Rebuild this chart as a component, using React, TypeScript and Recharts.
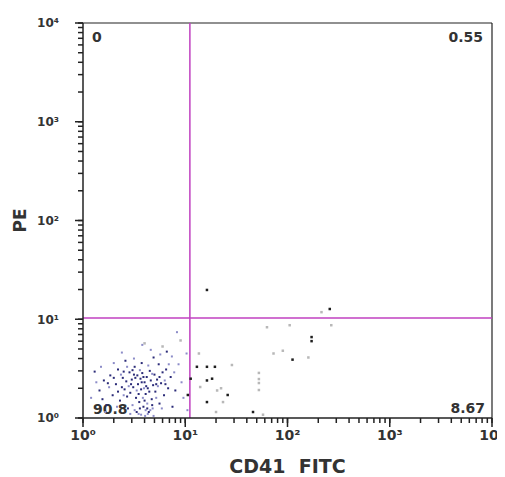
import { ScatterChart, Scatter, XAxis, YAxis, ReferenceLine, ReferenceDot } from 'recharts';

// tick positions for the log axes (decades plus minor ticks)
const decades = [1, 10, 100, 1000, 10000];
const decadeLabels = ['10⁰', '10¹', '10²', '10³', '10⁴'];
const logTicks = [
  1, 2, 3, 4, 5, 6, 7, 8, 9,
  10, 20, 30, 40, 50, 60, 70, 80, 90,
  100, 200, 300, 400, 500, 600, 700, 800, 900,
  1000, 2000, 3000, 4000, 5000, 6000, 7000, 8000, 9000,
  10000,
];

// quadrant gates and percentages
const gateX = 11.1;
const gateY = 10.3;
const quadUL = '0';
const quadUR = '0.55';
const quadLL = '90.8';
const quadLR = '8.67';

// events: [CD41 FITC, PE]
const clusterDark: [number, number][] = [
  [1.3, 2.95], [1.45, 1.9], [1.6, 2.4], [1.7, 1.35], [1.85, 2.7], [1.95, 1.7], [2.1, 2.2], [2.2, 3.1],
  [2.3, 1.5], [2.45, 2.55], [2.55, 1.95], [2.65, 2.35], [2.75, 1.25], [2.85, 2.9], [2.9, 1.8], [3.0, 2.45],
  [3.1, 2.05], [3.2, 3.3], [3.3, 1.6], [3.4, 2.7], [3.45, 2.2], [3.55, 1.45], [3.65, 2.5], [3.7, 1.95],
  [3.8, 2.85], [3.9, 1.3], [4.0, 2.3], [4.1, 1.75], [4.2, 2.6], [4.3, 2.0], [4.4, 1.15], [4.5, 3.0],
  [4.6, 2.4], [4.7, 1.55], [4.85, 2.15], [5.0, 2.75], [5.1, 1.85], [5.3, 2.45], [5.5, 3.5], [5.6, 1.4],
  [5.8, 2.25], [6.0, 2.9], [6.2, 1.7], [6.5, 3.1], [6.6, 4.7], [6.8, 2.0], [7.2, 2.6], [7.5, 1.3],
  [8.0, 1.9], [3.75, 3.6], [2.6, 3.8], [4.9, 4.1], [1.55, 1.55], [2.0, 2.55],
  [2.4, 2.05], [2.95, 2.2], [3.25, 2.55], [3.5, 1.75], [3.75, 2.3], [4.15, 2.1], [4.45, 1.85], [4.0, 1.5],
  [3.6, 1.25], [2.7, 1.65], [3.15, 2.75], [3.9, 2.6], [4.75, 1.35], [5.2, 2.2], [2.2, 1.85], [1.75, 2.25],
  [3.35, 1.15], [4.25, 1.25], [2.5, 2.95], [3.05, 3.05], [5.6, 2.6], [6.4, 2.2],
];
const clusterLight: [number, number][] = [
  [1.2, 1.6], [1.35, 2.3], [1.5, 3.3], [1.65, 1.15], [1.8, 2.05], [2.0, 3.6], [2.15, 1.3], [2.35, 2.75],
  [2.5, 1.7], [2.7, 3.3], [2.8, 2.1], [3.05, 1.35], [3.15, 4.0], [3.35, 1.9], [3.5, 1.1], [3.6, 3.05],
  [3.85, 1.6], [3.95, 2.0], [4.05, 1.05], [4.25, 1.4], [4.35, 3.4], [4.55, 1.2], [4.75, 2.8], [4.9, 1.05],
  [5.2, 1.6], [5.4, 2.1], [5.7, 4.4], [5.9, 1.25], [6.3, 2.4], [6.9, 3.5], [7.4, 4.2], [7.8, 2.9],
  [8.3, 7.4], [8.6, 3.5], [9.2, 2.3], [9.6, 1.6], [10.3, 4.5], [10.5, 1.2], [3.8, 5.5], [4.6, 4.9], [2.4, 4.6],
  [3.7, 1.08], [4.3, 1.1], [3.2, 1.2], [4.8, 1.25], [2.9, 1.1], [4.1, 1.2],
];
const blackDots: [number, number][] = [
  [16.3, 19.8], [259, 12.7], [172, 6.6], [172, 6.0], [112, 3.9], [13, 3.3], [16.3, 3.3], [19.5, 3.3],
  [11.3, 2.5], [16.3, 2.4], [18.3, 2.5], [10.6, 1.71], [26, 1.71], [16.3, 1.45], [46, 1.15],
];
const grayDots: [number, number][] = [
  [215, 11.8], [63, 8.3], [105, 8.7], [268, 8.7], [73, 4.5], [90, 4.8], [160, 4.1], [13.6, 4.5],
  [28.6, 3.44], [14, 2.06], [22.4, 2.0], [20.5, 1.9], [23.4, 1.45], [20, 1.15], [52.5, 2.86], [52.5, 2.48],
  [52.5, 2.26], [52.5, 1.92], [57.6, 1.08], [9, 6.1], [6, 5.3], [4, 5.7],
];

const toRows = (pts: [number, number][]) => pts.map(([x, y]) => ({ x, y }));

const FONT = 'DejaVu Sans';
const INK = '#222';
const GATE = '#c040c0';

const square = (fill: string, size: number) => (p: any) => (
  <rect x={p.cx - size / 2} y={p.cy - size / 2} width={size} height={size} fill={fill} />
);

const decadeLabel = (v: number) => {
  const i = decades.indexOf(v);
  return i >= 0 ? decadeLabels[i] : '';
};

// longer marks at the decades
const xMajor = (p: any) => (
  <rect x={p.cx - 0.75} y={p.cy} width={1.5} height={9} fill={INK} />
);
const yMajor = (p: any) => (
  <rect x={p.cx - 8} y={p.cy - 0.75} width={8} height={1.5} fill={INK} />
);

const XTitle = ({ viewBox }: any) => (
  <text x={viewBox.x + viewBox.width / 2} y={viewBox.y + 55} textAnchor="middle"
    fontFamily={FONT} fontWeight="bold" fontSize={19} fill="#333" style={{ whiteSpace: 'pre' }}>
    CD41  FITC
  </text>
);

const YTitle = ({ viewBox }: any) => {
  const cx = viewBox.x + 12;
  const cy = viewBox.y + viewBox.height / 2;
  return (
    <text x={cx} y={cy} transform={`rotate(-90 ${cx} ${cy})`} textAnchor="middle" dominantBaseline="central"
      fontFamily={FONT} fontWeight="bold" fontSize={17} fill="#333">
      PE
    </text>
  );
};

const TopLabels = ({ viewBox }: any) => (
  <g fontFamily={FONT} fontWeight="bold" fontSize={14} fill="#333">
    <text x={viewBox.x + 9} y={viewBox.y + 19}>{quadUL}</text>
    <text x={viewBox.x + viewBox.width - 9} y={viewBox.y + 19} textAnchor="end">{quadUR}</text>
  </g>
);

const BottomLabels = ({ viewBox }: any) => (
  <g fontFamily={FONT} fontWeight="bold" fontSize={14} fill="#333">
    <text x={viewBox.x + 10} y={viewBox.y - 4}>{quadLL}</text>
    <text x={viewBox.x + viewBox.width - 7} y={viewBox.y - 5} textAnchor="end">{quadLR}</text>
  </g>
);

export default function App() {
  return (
    <div>
      <ScatterChart width={497} height={469} margin={{ top: 15, right: 13, left: 0, bottom: 0 }}>
        <XAxis
          type="number"
          dataKey="x"
          scale="log"
          domain={[1, 10000]}
          allowDataOverflow
          ticks={logTicks}
          interval={0}
          tickFormatter={decadeLabel}
          tick={{ fontFamily: FONT, fontWeight: 'bold', fontSize: 14, fill: '#333' }}
          tickLine={{ stroke: INK, strokeWidth: 1.5 }}
          tickSize={5}
          tickMargin={7}
          height={59}
          axisLine={{ stroke: INK, strokeWidth: 1.5 }}
          label={{ content: <XTitle /> }}
        />
        <YAxis
          type="number"
          dataKey="y"
          scale="log"
          domain={[1, 10000]}
          allowDataOverflow
          ticks={logTicks}
          interval={0}
          tickFormatter={decadeLabel}
          tick={{ fontFamily: FONT, fontWeight: 'bold', fontSize: 12, fill: '#333' }}
          tickLine={{ stroke: INK, strokeWidth: 1.5 }}
          tickSize={5}
          tickMargin={19}
          width={75}
          axisLine={{ stroke: INK, strokeWidth: 1.5 }}
          label={{ content: <YTitle /> }}
        />
        <ReferenceLine y={10000} stroke={INK} strokeWidth={1.2} label={{ content: <TopLabels /> }} />
        <ReferenceLine x={10000} stroke={INK} strokeWidth={1.2} />
        <ReferenceLine y={1} stroke="none" label={{ content: <BottomLabels /> }} />
        <Scatter data={toRows(grayDots)} shape={square('#b8b8b8', 2.5)} isAnimationActive={false} />
        <Scatter data={toRows(clusterLight)} shape={square('#8c8cc8', 2)} isAnimationActive={false} />
        <Scatter data={toRows(clusterDark)} shape={square('#2b2b78', 2)} isAnimationActive={false} />
        <Scatter data={toRows(blackDots)} shape={square('#1e1e1e', 2.5)} isAnimationActive={false} />
        <ReferenceLine x={gateX} stroke={GATE} strokeWidth={1.5} />
        <ReferenceLine y={gateY} stroke={GATE} strokeWidth={1.5} />
        {decades.map((v) => (
          <ReferenceDot key={`xm${v}`} x={v} y={1} ifOverflow="visible" shape={xMajor} />
        ))}
        {decades.map((v) => (
          <ReferenceDot key={`ym${v}`} x={1} y={v} ifOverflow="visible" shape={yMajor} />
        ))}
      </ScatterChart>
    </div>
  );
}
